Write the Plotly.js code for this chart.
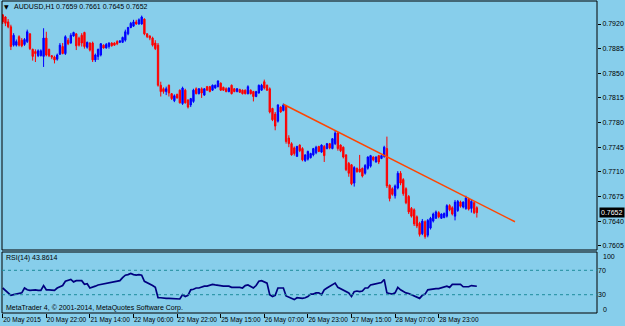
<!DOCTYPE html>
<html><head><meta charset="utf-8">
<script src="https://cdn.plot.ly/plotly-3.0.1.min.js"></script>
<style>html,body{margin:0;padding:0;background:#87CEEB;}#chart{width:625px;height:326px;}</style>
</head><body><div id="chart"></div>
<script>
const symbol = 'AUDUSD,H1';
const openP = [
.7933,.7930,.7923,.7916,.7890,.7890,.7902,.7897,.7891,.7895,
.7906,.7884,.7881,.7875,.7875,.7874,.7900,.7884,.7875,.7873,
.7870,.7877,.7888,.7878,.7897,.7893,.7903,.7906,.7900,.7904,
.7908,.7887,.7893,.7893,.7869,.7874,.7876,.7890,.7886,.7888,
.7893,.7893,.7895,.7894,.7894,.7897,.7906,.7915,.7917,.7923,
.7920,.7920,.7927,.7906,.7903,.7900,.7893,.7890,.7833,.7828,
.7824,.7833,.7821,.7811,.7820,.7826,.7807,.7826,.7812,.7805,
.7810,.7828,.7821,.7828,.7819,.7831,.7831,.7826,.7829,.7831,
.7836,.7830,.7828,.7824,.7833,.7828,.7824,.7827,.7826,.7826,
.7821,.7826,.7824,.7817,.7822,.7826,.7838,.7833,.7828,.7800,
.7792,.7782,.7802,.7797,.7803,.7758,.7750,.7744,.7732,.7748,
.7743,.7726,.7728,.7730,.7734,.7737,.7746,.7738,.7746,.7743,
.7750,.7743,.7750,.7765,.7748,.7745,.7734,.7722,.7720,.7694,
.7715,.7714,.7715,.7708,.7715,.7718,.7731,.7724,.7733,.7729,
.7732,.7743,.7691,.7686,.7676,.7687,.7708,.7699,.7686,.7675,
.7658,.7656,.7646,.7637,.7622,.7639,.7620,.7630,.7640,.7644,
.7652,.7644,.7645,.7647,.7662,.7659,.7647,.7655,.7667,.7660,
.7658,.7671,.7658,.7666,.7659];
const highP = [
.7934,.7931,.7927,.7919,.7907,.7898,.7904,.7900,.7900,.7912,
.7907,.7885,.7884,.7884,.7884,.7914,.7909,.7885,.7876,.7875,
.7878,.7893,.7893,.7904,.7900,.7907,.7909,.7907,.7902,.7907,
.7909,.7895,.7894,.7895,.7878,.7885,.7893,.7891,.7893,.7894,
.7894,.7894,.7897,.7897,.7902,.7912,.7916,.7923,.7926,.7926,
.7928,.7932,.7928,.7907,.7904,.7902,.7897,.7893,.7838,.7830,
.7831,.7834,.7822,.7820,.7821,.7827,.7831,.7828,.7813,.7815,
.7828,.7830,.7829,.7830,.7829,.7832,.7832,.7834,.7834,.7840,
.7837,.7831,.7830,.7830,.7834,.7829,.7829,.7828,.7827,.7827,
.7833,.7827,.7825,.7825,.7834,.7835,.7841,.7834,.7830,.7801,
.7795,.7806,.7803,.7807,.7805,.7762,.7752,.7746,.7747,.7749,
.7745,.7735,.7740,.7737,.7744,.7747,.7747,.7749,.7748,.7751,
.7751,.7758,.7768,.7767,.7749,.7746,.7735,.7724,.7721,.7718,
.7716,.7734,.7716,.7721,.7732,.7734,.7732,.7732,.7734,.7734,
.7747,.7760,.7692,.7688,.7692,.7711,.7711,.7701,.7688,.7677,
.7660,.7658,.7648,.7639,.7643,.7641,.7643,.7646,.7652,.7655,
.7654,.7651,.7652,.7664,.7664,.7661,.7670,.7670,.7669,.7668,
.7676,.7673,.7670,.7668,.7661];
const lowP = [
.7920,.7917,.7914,.7883,.7888,.7888,.7888,.7887,.7889,.7893,
.7883,.7868,.7866,.7873,.7874,.7859,.7874,.7873,.7870,.7864,
.7868,.7876,.7877,.7876,.7890,.7892,.7902,.7883,.7888,.7888,
.7885,.7885,.7881,.7866,.7866,.7869,.7874,.7885,.7885,.7885,
.7888,.7889,.7890,.7893,.7893,.7895,.7904,.7914,.7916,.7919,
.7919,.7919,.7904,.7900,.7897,.7888,.7883,.7831,.7817,.7821,
.7819,.7817,.7812,.7809,.7814,.7807,.7805,.7807,.7800,.7802,
.7808,.7820,.7820,.7815,.7818,.7825,.7823,.7825,.7828,.7830,
.7825,.7825,.7823,.7823,.7820,.7823,.7823,.7822,.7820,.7820,
.7820,.7820,.7810,.7816,.7821,.7825,.7827,.7825,.7793,.7782,
.7769,.7780,.7794,.7796,.7750,.7745,.7733,.7733,.7731,.7738,
.7725,.7724,.7726,.7729,.7732,.7735,.7738,.7737,.7724,.7742,
.7742,.7742,.7748,.7740,.7738,.7729,.7711,.7703,.7691,.7689,
.7709,.7709,.7702,.7706,.7713,.7716,.7725,.7723,.7721,.7728,
.7730,.7687,.7668,.7676,.7672,.7685,.7691,.7676,.7664,.7650,
.7645,.7633,.7630,.7618,.7620,.7615,.7617,.7628,.7638,.7643,
.7644,.7643,.7644,.7645,.7654,.7648,.7641,.7653,.7659,.7658,
.7656,.7655,.7652,.7650,.7645];
const closeP = [
.7923,.7921,.7916,.7888,.7904,.7895,.7890,.7889,.7898,.7909,
.7885,.7874,.7878,.7882,.7882,.7900,.7876,.7875,.7873,.7869,
.7876,.7890,.7878,.7902,.7892,.7904,.7908,.7889,.7890,.7893,
.7888,.7894,.7883,.7869,.7876,.7884,.7892,.7886,.7891,.7893,
.7889,.7890,.7892,.7896,.7901,.7909,.7915,.7921,.7923,.7920,
.7926,.7930,.7906,.7902,.7900,.7890,.7885,.7833,.7824,.7824,
.7828,.7822,.7814,.7818,.7815,.7808,.7829,.7808,.7802,.7814,
.7826,.7821,.7828,.7822,.7828,.7826,.7824,.7833,.7833,.7839,
.7826,.7826,.7824,.7829,.7821,.7824,.7828,.7823,.7821,.7821,
.7831,.7821,.7817,.7824,.7833,.7833,.7829,.7826,.7795,.7784,
.7775,.7805,.7795,.7805,.7753,.7750,.7734,.7736,.7746,.7740,
.7727,.7734,.7739,.7736,.7743,.7745,.7739,.7748,.7733,.7750,
.7744,.7757,.7765,.7743,.7740,.7731,.7713,.7708,.7693,.7716,
.7710,.7710,.7704,.7719,.7731,.7733,.7727,.7731,.7724,.7733,
.7745,.7690,.7672,.7678,.7690,.7708,.7694,.7679,.7666,.7653,
.7647,.7636,.7633,.7621,.7640,.7618,.7641,.7644,.7650,.7653,
.7646,.7650,.7651,.7662,.7656,.7650,.7667,.7668,.7661,.7667,
.7673,.7657,.7668,.7652,.7652];
const rsiValues = [
41,37,34,29,30,31,32,33,41,38,
37,38,38,37,37,45,38,38,37,37,
41,43,45,52,53,55,51,53,53,53,
47,48,41,42,44,46,47,48,49,50,
51,52,52,53,58,62,63,65,63,62,
63,62,52,50,48,45,42,25,25,24,
24,24,24,23,23,23,30,27,29,38,
39,41,41,43,44,44,45,47,46,45,
45,44,44,44,42,42,43,42,41,45,
46,43,41,45,52,53,51,49,30,27,
29,41,41,41,28,26,24,22,25,24,
24,25,27,31,31,33,33,30,38,41,
44,46,49,42,40,38,35,33,27,35,
36,35,36,41,41,46,47,48,49,50,
55,33,32,31,33,42,38,35,33,32,
30,28,25,24,29,31,38,39,40,40,
40,41,42,44,42,47,47,47,47,43,
43,43,45,44,43.8614];
const tickBars = [0,16,32,48,64,80,96,112,128,144,160];
const tickLabels = ['20 May 2015','20 May 22:00','21 May 14:00','22 May 06:00','22 May 22:00',
  '25 May 15:00','26 May 07:00','26 May 23:00','27 May 15:00','28 May 07:00','28 May 23:00'];
const priceTicks = [0.7605,0.7640,0.7675,0.7710,0.7745,0.7780,0.7815,0.7850,0.7885,0.7920];
const rsiTicks = [0,30,70,100];
const rsiLevels = [30,70];
const trendBars = [103,188];
const trendPrices = [0.7806,0.7639];

const bars = openP.map((_, i) => i);
const n = closeP.length - 1;
const FONT = 'Liberation Sans, Arial, sans-serif';
const FS = 7;
const BG = '#87CEEB';
const MAIN_BOTTOM = 0.2019, RSI_TOP = 0.1955;
const px = x => (x - 2) / 595;
const py = y => (313 - y) / 312;

const traces = [
  {type:'candlestick', x:bars, open:openP, high:highP, low:lowP, close:closeP,
   xaxis:'x', yaxis:'y', whiskerwidth:0, hoverinfo:'skip', showlegend:false,
   increasing:{line:{color:'#0000FF', width:1}, fillcolor:'#0000FF'},
   decreasing:{line:{color:'#FF0000', width:1}, fillcolor:'#FF0000'}},
  {type:'scatter', mode:'lines', x:trendBars, y:trendPrices, xaxis:'x', yaxis:'y',
   line:{color:'#FF4500', width:1.5}, hoverinfo:'skip', showlegend:false},
  {type:'scatter', mode:'lines', x:bars, y:rsiValues, xaxis:'x', yaxis:'y2',
   line:{color:'#000080', width:1.7}, hoverinfo:'skip', showlegend:false}
];

const shapes = [
  {type:'rect', xref:'paper', yref:'paper', x0:0, x1:1, y0:MAIN_BOTTOM, y1:1, line:{color:'#000', width:1}, layer:'above'},
  {type:'rect', xref:'paper', yref:'paper', x0:0, x1:1, y0:0, y1:RSI_TOP, line:{color:'#000', width:1}, layer:'above'}
].concat(rsiLevels.map(v => ({type:'line', xref:'paper', yref:'y2', x0:0, x1:1, y0:v, y1:v,
  line:{color:'#1E8C9C', width:1, dash:'dot'}})));

const txt = (text, x, y, extra) => Object.assign({text, xref:'paper', yref:'paper', x, y,
  xanchor:'left', yanchor:'middle', showarrow:false, borderpad:0,
  font:{family:FONT, size:FS, color:'#000'}}, extra || {});

const annotations = [
  txt('▼', px(3), py(6.5), {font:{family:'DejaVu Sans', size:6, color:'#000'}}),
  txt(symbol, px(13), py(6.7)),
  txt([openP[n], highP[n], lowP[n], closeP[n]].map(v => v.toFixed(4)).join(' '), px(55), py(6.7)),
  txt('RSI(14) ' + rsiValues[n].toFixed(4), px(4.5), py(258.3)),
  txt('MetaTrader 4, © 2001-2014, MetaQuotes Software Corp.', px(4.5), py(308)),
  {text:closeP[n].toFixed(4), xref:'paper', yref:'y', x:1, y:closeP[n], xanchor:'left', yanchor:'middle',
   xshift:2, showarrow:false, bgcolor:'#000', borderpad:1, font:{family:FONT, size:FS, color:'#fff'}},
  {text:String(rsiTicks[3]), xref:'paper', yref:'paper', x:1, y:py(256.7), xanchor:'left', yanchor:'middle',
   xshift:4, showarrow:false, font:{family:FONT, size:FS, color:'#000'}},
  {text:String(rsiTicks[0]), xref:'paper', yref:'paper', x:1, y:py(309), xanchor:'left', yanchor:'middle',
   xshift:4, showarrow:false, font:{family:FONT, size:FS, color:'#000'}}
];

const layout = {
  width:625, height:326,
  margin:{l:2, r:28, t:1, b:13, pad:0},
  paper_bgcolor:BG, plot_bgcolor:BG,
  font:{family:FONT, size:FS, color:'#000'},
  showlegend:false, dragmode:false,
  xaxis:{range:[-0.26, 218.1], anchor:'y2', showgrid:false, zeroline:false, showline:false,
    rangeslider:{visible:false}, tickmode:'array', tickvals:tickBars, ticktext:tickLabels,
    ticks:'outside', ticklen:4, tickcolor:'#000', tickwidth:1, ticklabelposition:'outside right',
    tickangle:0, automargin:false, tickfont:{family:FONT, size:6.5, color:'#000'}, fixedrange:true},
  yaxis:{domain:[MAIN_BOTTOM, 1], range:[0.75989, 0.79527], side:'right', anchor:'x',
    showgrid:false, zeroline:false, showline:false, tickmode:'array', tickvals:priceTicks,
    ticktext:priceTicks.map(v => v.toFixed(4)), ticks:'outside', ticklen:3, tickcolor:'#000',
    automargin:false, tickfont:{family:FONT, size:FS, color:'#000'}, fixedrange:true},
  yaxis2:{domain:[0, RSI_TOP], range:[0, 100], side:'right', anchor:'x',
    showgrid:false, zeroline:false, showline:false, tickmode:'array', tickvals:rsiTicks,
    ticktext:['', '30', '70', ''], ticks:'', automargin:false,
    tickfont:{family:FONT, size:FS, color:'#000'}, fixedrange:true},
  shapes, annotations
};

Plotly.newPlot('chart', traces, layout, {staticPlot:true, displayModeBar:false});
</script></body></html>
